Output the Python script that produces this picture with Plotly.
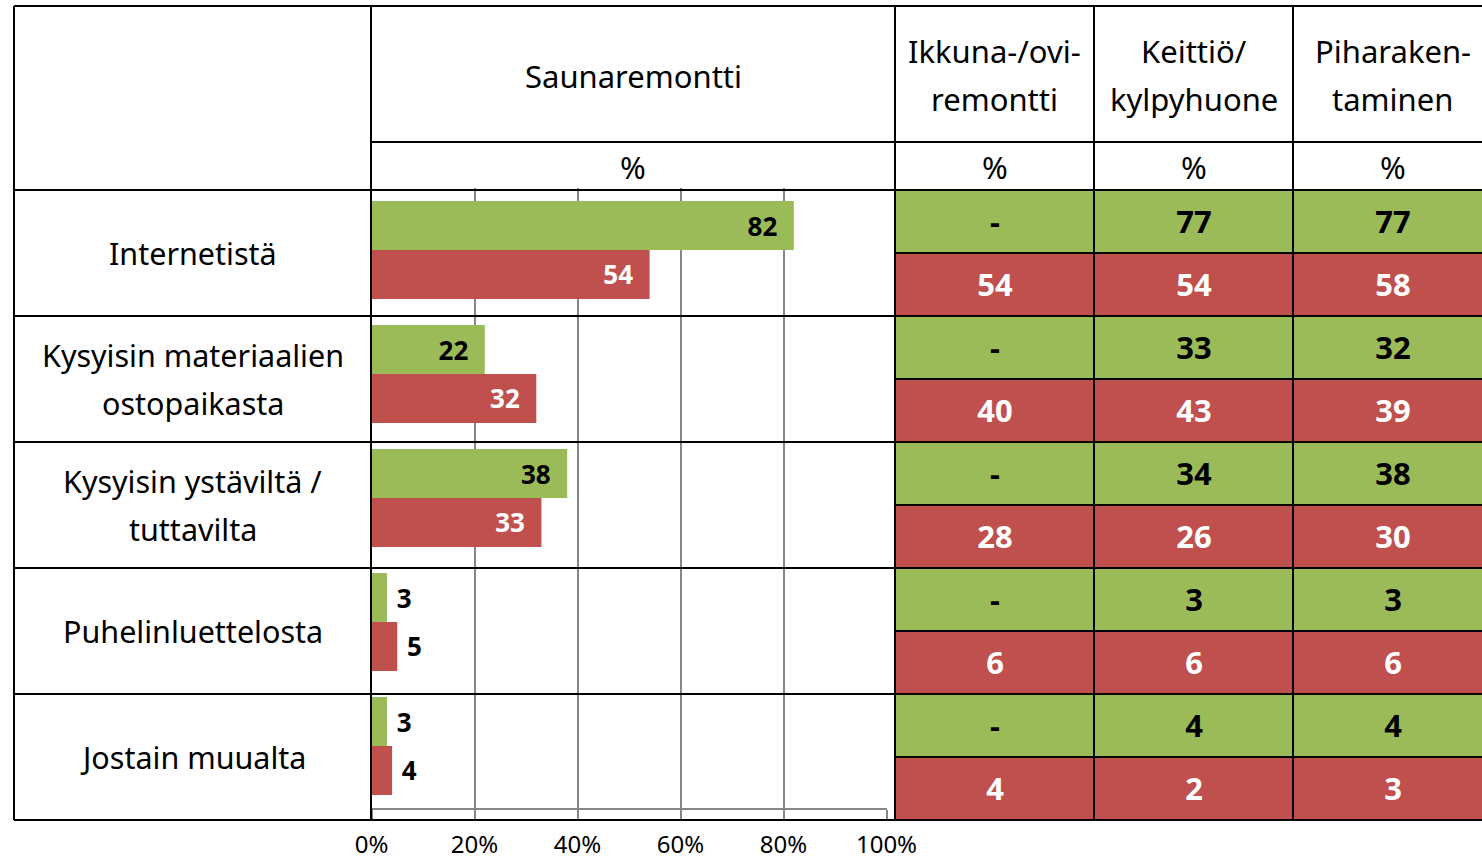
import plotly.graph_objects as go

# ---------------- data ----------------
categories = ["Internetistä", "Kysyisin materiaalien<br>ostopaikasta",
              "Kysyisin ystäviltä /<br>tuttavilta", "Puhelinluettelosta", "Jostain muualta"]
sauna_green = [82, 22, 38, 3, 3]
sauna_red = [54, 32, 33, 5, 4]

table_columns = ["Ikkuna-/ovi-<br>remontti", "Keittiö/<br>kylpyhuone", "Piharaken-<br>taminen"]
table_green = [[None, 77, 77], [None, 33, 32], [None, 34, 38], [None, 3, 3], [None, 4, 4]]
table_red = [[54, 54, 58], [40, 43, 39], [28, 26, 30], [6, 6, 6], [4, 2, 3]]

sauna_title = "Saunaremontti"
unit_label = "%"
x_tickvals = [0, 20, 40, 60, 80, 100]
x_ticktext = ["0%", "20%", "40%", "60%", "80%", "100%"]

# ---------------- style ----------------
W, H = 1482, 862
GREEN = "#9BBB59"
RED = "#C0504D"
GRID = "#868686"
FONT = "Noto Sans"
TXT = 30.5
HEAD = 31
BARNUM = 26
TABNUM = 31
TICK = 24


def X(px):
    return px / W


def Y(py):
    return 1 - py / H


fig = go.Figure()

# ---- bar chart (Saunaremontti) ----
def bar_text(vals, inside_thr=10):
    pos, tmpl = [], []
    for v in vals:
        if v >= inside_thr:
            pos.append("inside")
            tmpl.append("%{text}\u00a0\u00a0")
        else:
            pos.append("outside")
            tmpl.append("\u00a0%{text}")
    return pos, tmpl


gp, gt = bar_text(sauna_green)
rp, rt = bar_text(sauna_red)

fig.add_trace(go.Bar(
    y=categories, x=sauna_green, text=[str(v) for v in sauna_green],
    orientation="h", marker=dict(color=GREEN, line_width=0),
    textposition=gp, texttemplate=gt, constraintext="none",
    insidetextanchor="end",
    insidetextfont=dict(color="black", size=BARNUM, family=FONT, weight="bold"),
    outsidetextfont=dict(color="black", size=BARNUM, family=FONT, weight="bold"),
    hoverinfo="skip", xaxis="x", yaxis="y", cliponaxis=False,
))
fig.add_trace(go.Bar(
    y=categories, x=sauna_red, text=[str(v) for v in sauna_red],
    orientation="h", marker=dict(color=RED, line_width=0),
    textposition=rp, texttemplate=rt, constraintext="none",
    insidetextanchor="end",
    insidetextfont=dict(color="white", size=BARNUM, family=FONT, weight="bold"),
    outsidetextfont=dict(color="black", size=BARNUM, family=FONT, weight="bold"),
    hoverinfo="skip", xaxis="x", yaxis="y", cliponaxis=False,
))

# ---- right-hand table as heatmaps ----
n_rows = len(categories)
z_g, t_g, z_r, t_r = [], [], [], []
for i in range(n_rows):
    z_g.append([0] * len(table_columns))
    t_g.append(["-" if v is None else str(v) for v in table_green[i]])
    z_r.append([None] * len(table_columns))
    t_r.append([""] * len(table_columns))
    z_g.append([None] * len(table_columns))
    t_g.append([""] * len(table_columns))
    z_r.append([1] * len(table_columns))
    t_r.append(["-" if v is None else str(v) for v in table_red[i]])

cols_idx = list(range(len(table_columns)))
rows_idx = list(range(2 * n_rows))
fig.add_trace(go.Heatmap(
    x=cols_idx, y=rows_idx, z=z_g, text=t_g, texttemplate="%{text}",
    colorscale=[[0, GREEN], [1, GREEN]], zmin=0, zmax=1, showscale=False,
    textfont=dict(color="black", size=TABNUM, family=FONT, weight="bold"),
    hoverinfo="skip", xaxis="x2", yaxis="y2",
))
fig.add_trace(go.Heatmap(
    x=cols_idx, y=rows_idx, z=z_r, text=t_r, texttemplate="%{text}",
    colorscale=[[0, RED], [1, RED]], zmin=0, zmax=1, showscale=False,
    textfont=dict(color="white", size=TABNUM, family=FONT, weight="bold"),
    hoverinfo="skip", xaxis="x2", yaxis="y2",
))

# ---- table grid lines ----
shapes = []


def hline(py, x0, x1, color="black", w=2):
    shapes.append(dict(type="line", xref="paper", yref="paper", x0=X(x0), x1=X(x1),
                       y0=Y(py), y1=Y(py), line=dict(color=color, width=w)))


def vline(px, y0, y1, color="black", w=2):
    shapes.append(dict(type="line", xref="paper", yref="paper", x0=X(px), x1=X(px),
                       y0=Y(y0), y1=Y(y1), line=dict(color=color, width=w)))


TOP, HDR, BODY, BOT = 6, 142, 190, 820
LEFT, C1, C2, C3, C4, RIGHT = 14, 371, 895, 1094, 1293, W + 2
row_h = (BOT - BODY) / n_rows

hline(TOP, LEFT, RIGHT)
hline(HDR, C1, RIGHT)
for i in range(n_rows + 1):
    hline(BODY + i * row_h, LEFT, RIGHT)
for i in range(n_rows):
    hline(BODY + i * row_h + row_h / 2, C2, RIGHT)
for px in (LEFT, C1, C2, C3, C4):
    vline(px, TOP, BOT)

# ---- annotations ----
ann = []
LINE_GAP = 47.5


def text_block(label, x, y, xref="paper", yref="paper", size=TXT):
    lines = label.split("<br>")
    n = len(lines)
    for j, ln in enumerate(lines):
        ann.append(dict(text=ln, x=x, y=y, xref=xref, yref=yref, showarrow=False,
                        xanchor="center", yanchor="middle",
                        yshift=-(j - (n - 1) / 2) * LINE_GAP,
                        font=dict(family=FONT, size=size, color="black")))


# row labels, aligned to table rows (heatmap y-axis)
for i, c in enumerate(categories):
    text_block(c, X((LEFT + C1) / 2), 2 * i + 0.5, yref="y2")

# headers
text_block(sauna_title, X((C1 + C2) / 2), Y(76), size=HEAD)
text_block(unit_label, X((C1 + C2) / 2), Y(167), size=HEAD)
for k, col in enumerate(table_columns):
    text_block(col, k, Y(75), xref="x2", size=HEAD)
    text_block(unit_label, k, Y(167), xref="x2", size=HEAD)

fig.update_layout(
    width=W, height=H, autosize=False,
    margin=dict(l=0, r=0, t=0, b=0, pad=0, autoexpand=False),
    paper_bgcolor="white", plot_bgcolor="white",
    showlegend=False,
    barmode="group", bargap=0.21, bargroupgap=0,
    font=dict(family=FONT, size=TXT, color="black"),
    xaxis=dict(domain=[X(371.5), X(886.5)], range=[0, 100],
               tickmode="array", tickvals=x_tickvals, ticktext=x_ticktext,
               showgrid=True, gridcolor=GRID, gridwidth=1.5,
               zeroline=False, showline=True, linecolor=GRID, linewidth=1.5,
               ticks="outside", ticklen=9, tickcolor=GRID, tickwidth=1.5,
               tickfont=dict(family=FONT, size=TICK, color="black"),
               ticklabelstandoff=5, automargin=False, fixedrange=True),
    yaxis=dict(domain=[Y(808), Y(188)], autorange="reversed", showticklabels=False,
               showgrid=False, zeroline=False, showline=False, ticks="",
               automargin=False, fixedrange=True),
    xaxis2=dict(domain=[X(C2), 1], range=[-0.5, -0.5 + (W - C2) / (C3 - C2)],
                showticklabels=False, showgrid=False, zeroline=False, ticks="",
                automargin=False, fixedrange=True),
    yaxis2=dict(domain=[Y(BOT), Y(BODY)], range=[2 * n_rows - 0.5, -0.5],
                showticklabels=False, showgrid=False, zeroline=False, ticks="",
                automargin=False, fixedrange=True),
    shapes=shapes,
    annotations=ann,
)

fig.write_html(
    "out.html",
    config={"displayModeBar": False, "responsive": False},
    post_script="document.body.style.margin='0px';document.body.style.overflow='hidden';",
)
